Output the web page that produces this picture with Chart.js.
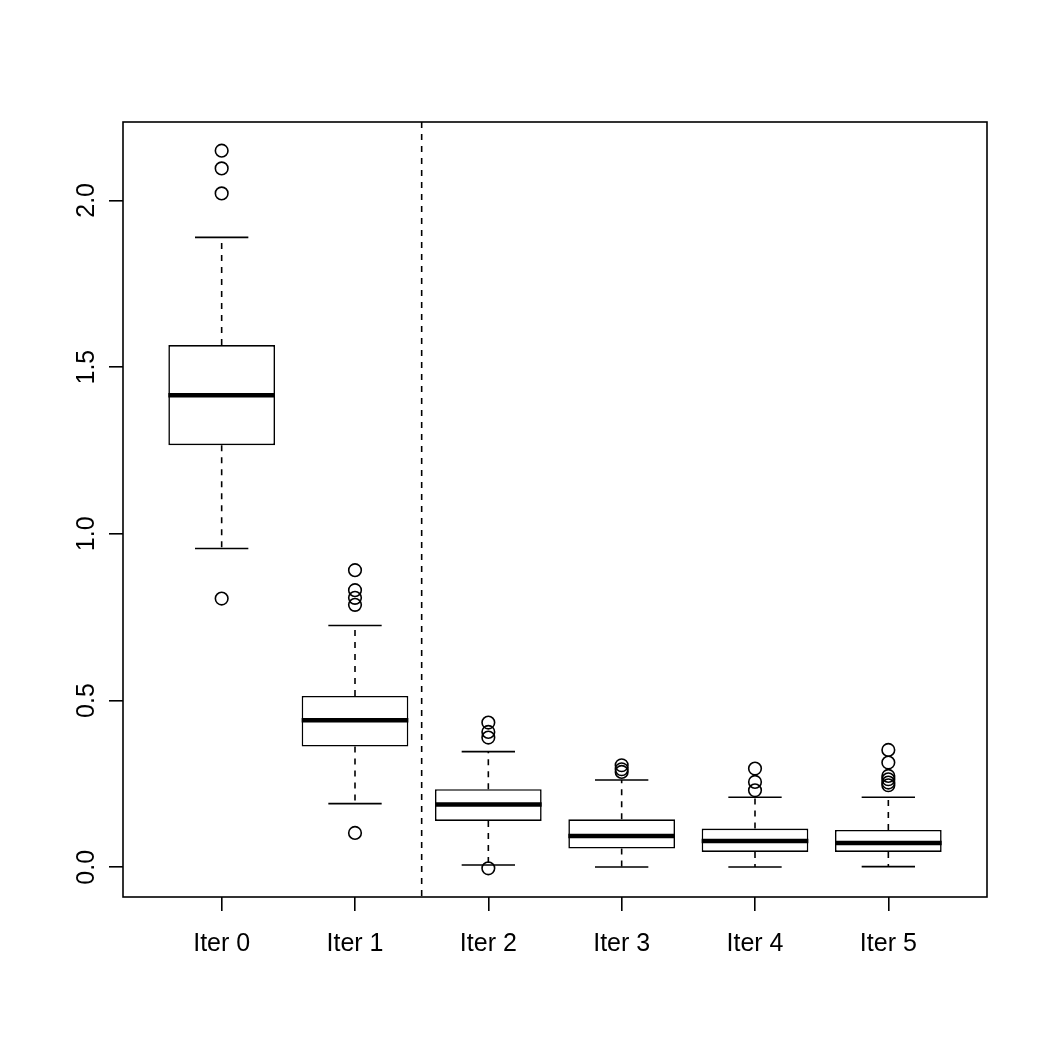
<!DOCTYPE html>
<html>
<head>
<meta charset="utf-8">
<script src="https://cdn.jsdelivr.net/npm/chart.js@4/dist/chart.umd.min.js"></script>
<style>
  html, body { margin: 0; padding: 0; background: #ffffff; }
  #wrap { width: 1050px; height: 1050px; }
</style>
</head>
<body>
<div id="wrap"><canvas id="c" width="1050" height="1050"></canvas></div>
<script>
// ---- data ----
const categories   = ['Iter 0', 'Iter 1', 'Iter 2', 'Iter 3', 'Iter 4', 'Iter 5'];
const lowerWhisker = [0.956, 0.191, 0.007, 0.001, 0.001, 0.002];
const q1           = [1.266, 0.362, 0.139, 0.056, 0.046, 0.046];
const median       = [1.416, 0.441, 0.188, 0.094, 0.079, 0.073];
const q3           = [1.566, 0.514, 0.234, 0.144, 0.116, 0.112];
const upperWhisker = [1.889, 0.725, 0.347, 0.262, 0.210, 0.210];
const outliers = [
  [2.149, 2.096, 2.021, 0.806],
  [0.891, 0.831, 0.808, 0.787, 0.103],
  [0.434, 0.406, 0.389, -0.003],
  [0.306, 0.294, 0.286],
  [0.296, 0.256, 0.231],
  [0.352, 0.314, 0.274, 0.264, 0.254, 0.246]
];
const yTickValues = [0, 0.5, 1.0, 1.5, 2.0];
const dividerAt = 2.5;   // vertical dashed separator between Iter 1 and Iter 2

// ---- derived (R-style 4% axis extension) ----
const positions = categories.map((_, i) => i + 1);
const allVals = [].concat(lowerWhisker, upperWhisker, ...outliers);
const yMinData = Math.min(...allVals), yMaxData = Math.max(...allVals);
const yExt = (yMaxData - yMinData) * 0.04;
const xMinData = 0.5, xMaxData = categories.length + 0.5;
const xExt = (xMaxData - xMinData) * 0.04;

const boxData = positions.map((p, i) => ({ x: p, y: [q1[i], q3[i]] }));
const outlierData = [];
outliers.forEach((arr, i) => arr.forEach(v => outlierData.push({ x: positions[i], y: v })));

const LW = 1.6;
const FONT = 'Liberation Sans, Arial, Helvetica, sans-serif';

const boxPlotPlugin = {
  id: 'boxPlotParts',
  beforeDatasetsDraw(chart) {
    const { ctx, scales: { x, y } } = chart;
    ctx.save();
    ctx.strokeStyle = '#000';
    ctx.lineWidth = LW;
    positions.forEach((p, i) => {
      const px = x.getPixelForValue(p);
      const capHalf = x.getPixelForValue(p + 0.2) - px;
      ctx.setLineDash([6, 6]);
      ctx.beginPath();
      ctx.moveTo(px, y.getPixelForValue(q3[i]));
      ctx.lineTo(px, y.getPixelForValue(upperWhisker[i]));
      ctx.moveTo(px, y.getPixelForValue(q1[i]));
      ctx.lineTo(px, y.getPixelForValue(lowerWhisker[i]));
      ctx.stroke();
      ctx.setLineDash([]);
      ctx.beginPath();
      const yu = y.getPixelForValue(upperWhisker[i]);
      const yl = y.getPixelForValue(lowerWhisker[i]);
      ctx.moveTo(px - capHalf, yu); ctx.lineTo(px + capHalf, yu);
      ctx.moveTo(px - capHalf, yl); ctx.lineTo(px + capHalf, yl);
      ctx.stroke();
    });
    ctx.restore();
  },
  afterDatasetsDraw(chart) {
    const { ctx, chartArea: a, scales: { x, y } } = chart;
    ctx.save();
    ctx.strokeStyle = '#000';
    ctx.lineWidth = 4.5;
    ctx.lineCap = 'butt';
    positions.forEach((p, i) => {
      const x0 = x.getPixelForValue(p - 0.4), x1 = x.getPixelForValue(p + 0.4);
      const ym = y.getPixelForValue(median[i]);
      ctx.beginPath(); ctx.moveTo(x0, ym); ctx.lineTo(x1, ym); ctx.stroke();
    });
    ctx.lineWidth = LW;
    ctx.setLineDash([6, 6]);
    const xd = x.getPixelForValue(dividerAt);
    ctx.beginPath(); ctx.moveTo(xd, a.top); ctx.lineTo(xd, a.bottom); ctx.stroke();
    ctx.setLineDash([]);
    ctx.strokeRect(a.left, a.top, a.right - a.left, a.bottom - a.top);
    ctx.restore();
  }
};

new Chart(document.getElementById('c'), {
  type: 'bar',
  data: {
    datasets: [
      {
        type: 'bar',
        label: 'box',
        data: boxData,
        backgroundColor: '#ffffff',
        borderColor: '#000000',
        borderWidth: LW,
        borderSkipped: false,
        barPercentage: 0.8,
        categoryPercentage: 1.0,
        order: 2
      },
      {
        type: 'scatter',
        label: 'outliers',
        data: outlierData,
        pointStyle: 'circle',
        pointRadius: 6.3,
        pointBorderWidth: LW,
        pointBorderColor: '#000000',
        pointBackgroundColor: 'rgba(0,0,0,0)',
        showLine: false,
        order: 1
      }
    ]
  },
  options: {
    responsive: false,
    animation: false,
    events: [],
    layout: { padding: { left: 0, top: 122, right: 63, bottom: 0 } },
    plugins: { legend: { display: false }, tooltip: { enabled: false }, title: { display: false } },
    scales: {
      x: {
        type: 'linear',
        offset: false,
        min: xMinData - xExt,
        max: xMaxData + xExt,
        afterBuildTicks: (s) => { s.ticks = positions.map(v => ({ value: v })); },
        afterFit: (s) => { s.height = 153; },
        border: { display: false },
        grid: { offset: false, drawOnChartArea: false, drawTicks: true, tickLength: 14, color: '#000', lineWidth: LW },
        ticks: {
          color: '#000',
          font: { family: FONT, size: 25 },
          padding: 18,
          maxRotation: 0, minRotation: 0,
          autoSkip: false,
          callback: (v) => categories[v - 1]
        }
      },
      y: {
        type: 'linear',
        min: yMinData - yExt,
        max: yMaxData + yExt,
        afterBuildTicks: (s) => { s.ticks = yTickValues.map(v => ({ value: v })); },
        afterFit: (s) => { s.width = 123; },
        border: { display: false },
        grid: { drawOnChartArea: false, drawTicks: true, tickLength: 14, color: '#000', lineWidth: LW },
        ticks: {
          color: '#000',
          font: { family: FONT, size: 25 },
          padding: 5,
          minRotation: 90, maxRotation: 90,
          crossAlign: 'center',
          callback: (v) => v.toFixed(1)
        }
      }
    }
  },
  plugins: [boxPlotPlugin]
});
</script>
</body>
</html>
